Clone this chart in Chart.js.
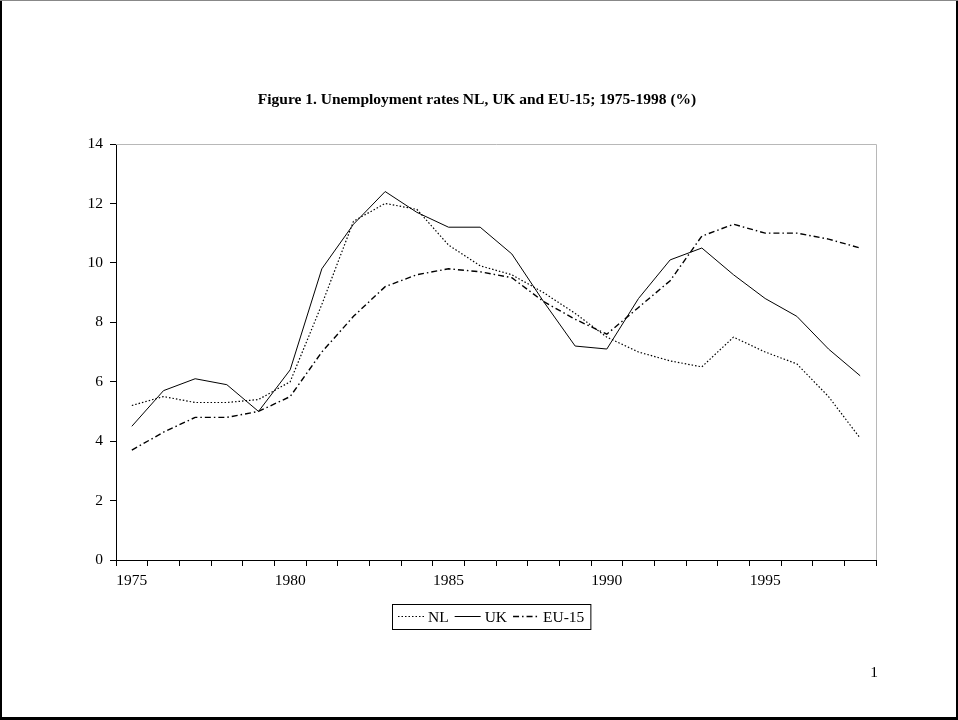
<!DOCTYPE html>
<html>
<head>
<meta charset="utf-8">
<script src="https://cdn.jsdelivr.net/npm/chart.js@4"></script>
<style>
html,body{margin:0;padding:0;background:#fff;}
canvas{display:block;}
</style>
</head>
<body>
<canvas id="c" width="958" height="720"></canvas>
<script>
const years = ['1975','1976','1977','1978','1979','1980','1981','1982','1983','1984','1985','1986','1987','1988','1989','1990','1991','1992','1993','1994','1995','1996','1997','1998'];
const nl   = [5.2,5.5,5.3,5.3,5.4,6.0,8.6,11.4,12.0,11.8,10.6,9.9,9.6,9.0,8.3,7.5,7.0,6.7,6.5,7.5,7.0,6.6,5.5,4.1];
const uk   = [4.5,5.7,6.1,5.9,5.0,6.4,9.8,11.3,12.4,11.7,11.2,11.2,10.3,8.7,7.2,7.1,8.8,10.1,10.5,9.6,8.8,8.2,7.1,6.2];
const eu15 = [3.7,4.3,4.8,4.8,5.0,5.5,7.0,8.2,9.2,9.6,9.8,9.7,9.5,8.7,8.1,7.6,8.5,9.4,10.9,11.3,11.0,11.0,10.8,10.5];
const yTicks = [0,2,4,6,8,10,12,14];
const titleText = 'Figure 1. Unemployment rates NL, UK and EU-15; 1975-1998 (%)';
const pageNo = '1';

const SERIF = '"Liberation Serif", "Times New Roman", serif';

const decor = {
  id: 'decor',
  beforeDatasetsDraw(chart) {
    const ctx = chart.ctx, a = chart.chartArea;
    ctx.save();
    ctx.strokeStyle = '#b8b8b8';
    ctx.lineWidth = 1;
    ctx.beginPath();
    ctx.moveTo(a.left, a.top + 0.5);
    ctx.lineTo(a.right + 0.5, a.top + 0.5);
    ctx.lineTo(a.right + 0.5, a.bottom);
    ctx.stroke();
    ctx.restore();
  },
  afterDraw(chart) {
    const ctx = chart.ctx;
    const W = chart.width, H = chart.height;
    ctx.save();
    // page frame
    ctx.fillStyle = '#000';
    ctx.fillRect(0, 0, 2, H);
    ctx.fillRect(W - 2, 0, 2, H);
    ctx.fillRect(0, H - 3, W, 3);
    ctx.fillStyle = '#888';
    ctx.fillRect(0, 0, W, 1);
    // title
    ctx.fillStyle = '#000';
    ctx.font = 'bold 15.5px ' + SERIF;
    ctx.textAlign = 'center';
    ctx.textBaseline = 'middle';
    ctx.fillText(titleText, 477, 100);
    // page number
    ctx.font = '15.5px ' + SERIF;
    ctx.fillText(pageNo, 874, 673);
    // legend
    ctx.font = '15.5px ' + SERIF;
    ctx.textAlign = 'left';
    const items = chart.data.datasets.map(d => ({label: d.label, dash: d.borderDash || [], w: d.borderWidth}));
    const lineLen = 26, gapLT = 4, gapItem = 6, padX = 6;
    let total = padX * 2;
    items.forEach((it, i) => { total += lineLen + gapLT + ctx.measureText(it.label).width + (i < items.length - 1 ? gapItem : 0); });
    const boxW = total, boxH = 25;
    const cx = 491, cy = 616.5;
    const x0 = Math.round(cx - boxW / 2), y0 = Math.round(cy - boxH / 2);
    ctx.strokeStyle = '#000';
    ctx.lineWidth = 1;
    ctx.setLineDash([]);
    ctx.strokeRect(x0 + 0.5, y0 + 0.5, boxW, boxH);
    let x = x0 + padX;
    items.forEach((it, i) => {
      ctx.beginPath();
      ctx.setLineDash(it.dash);
      ctx.lineWidth = it.w;
      ctx.moveTo(x, cy);
      ctx.lineTo(x + lineLen, cy);
      ctx.stroke();
      ctx.setLineDash([]);
      x += lineLen + gapLT;
      ctx.fillText(it.label, x, cy + 1);
      x += ctx.measureText(it.label).width + gapItem;
    });
    ctx.restore();
  }
};

new Chart(document.getElementById('c'), {
  type: 'line',
  data: {
    labels: years,
    datasets: [
      {label: 'NL', data: nl, borderColor: '#000', borderWidth: 1.2, borderDash: [1.5, 2], pointRadius: 0, tension: 0, fill: false},
      {label: 'UK', data: uk, borderColor: '#000', borderWidth: 1, borderDash: [], pointRadius: 0, tension: 0, fill: false},
      {label: 'EU-15', data: eu15, borderColor: '#000', borderWidth: 1.4, borderDash: [6, 3, 1.5, 3], pointRadius: 0, tension: 0, fill: false}
    ]
  },
  options: {
    responsive: false,
    animation: false,
    events: [],
    layout: {padding: {left: 0, right: 82, top: 144, bottom: 0}},
    plugins: {legend: {display: false}, title: {display: false}, tooltip: {enabled: false}},
    scales: {
      x: {
        type: 'category',
        offset: true,
        grid: {display: true, offset: true, drawOnChartArea: false, drawTicks: true, tickLength: 6, color: '#000', lineWidth: 1},
        border: {display: true, color: '#000', width: 1},
        ticks: {
          autoSkip: false, maxRotation: 0, padding: 6, color: '#000',
          font: {family: SERIF, size: 15.5},
          callback: function(v, i) { return i % 5 === 0 ? years[i] : ''; }
        },
        afterFit: s => { s.height = 160; }
      },
      y: {
        min: 0, max: 14,
        afterBuildTicks: s => { s.ticks = yTicks.map(v => ({value: v})); },
        grid: {display: true, drawOnChartArea: false, drawTicks: true, tickLength: 6, color: '#000', lineWidth: 1},
        border: {display: true, color: '#000', width: 1},
        ticks: {padding: 7, color: '#000', font: {family: SERIF, size: 15.5}},
        afterFit: s => { s.width = 116; }
      }
    }
  },
  plugins: [decor]
});
</script>
</body>
</html>
